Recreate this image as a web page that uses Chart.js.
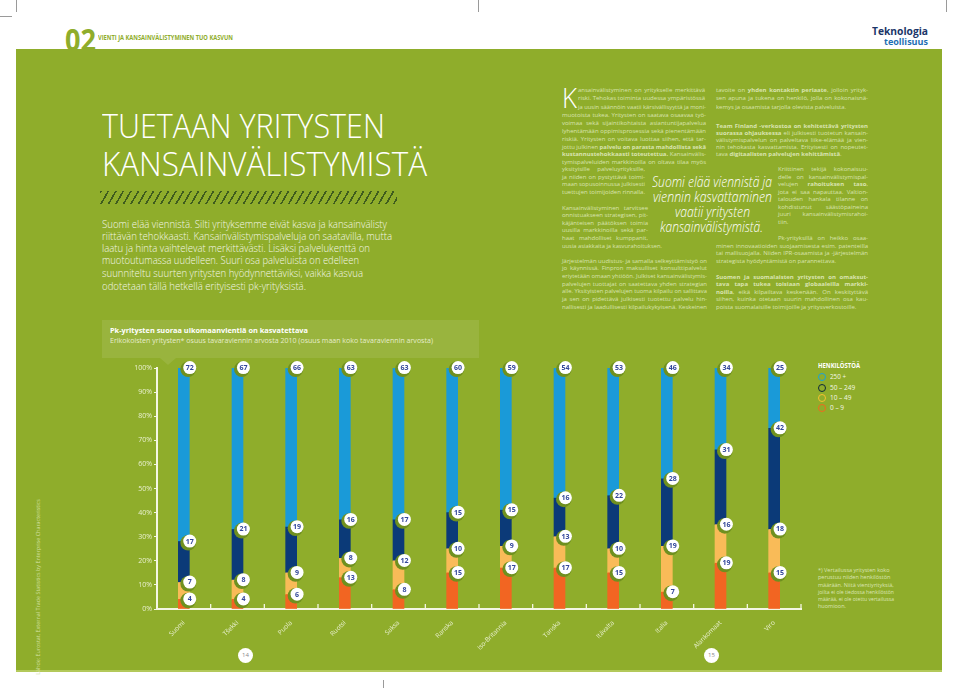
<!DOCTYPE html>
<html lang="fi">
<head>
<meta charset="utf-8">
<title>Pk-yritysten suoraa ulkomaanvientiä on kasvatettava</title>
<script src="https://cdn.jsdelivr.net/npm/chart.js@4.4.0/dist/chart.umd.min.js"></script>
<style>
html, body { margin: 0; padding: 0; background: #fff; }
body { width: 959px; height: 688px; position: relative; overflow: hidden; font-family: "Open Sans", "Noto Sans", sans-serif; color: #fff; }
.page { position: absolute; left: 16px; top: 49px; width: 926px; height: 621px; background: #8fad2b; }
.strip { position: absolute; left: 16px; top: 670px; width: 926px; height: 2px; background: #b3c95a; }
.t { position: absolute; white-space: nowrap; transform-origin: 0 0; }
.mark { position: absolute; background: #9a9a9a; }
.hatch { position: absolute; left: 100px; top: 191px; width: 297px; height: 13px;
  background: repeating-linear-gradient(120deg, #3f5c1e 0 1.6px, transparent 1.6px 6.5px); }
.box { position: absolute; left: 102px; top: 320px; width: 377px; height: 38px; background: rgba(255,255,255,0.09); }
.pointer { position: absolute; left: 160px; top: 358px; width: 0; height: 0;
  border-left: 8px solid transparent; border-right: 8px solid transparent; border-top: 7px solid rgba(255,255,255,0.09); }
.pagenum { position: absolute; width: 15px; height: 15px; border-radius: 50%; background: #fff; color: #8a8a8a;
  font-size: 6px; line-height: 15px; text-align: center; }
#wrap { position: absolute; left: 100px; top: 355px; width: 710px; height: 300px; }
.ring { position: absolute; width: 6px; height: 6px; border-radius: 50%; border: 1.6px solid; }
.src { position: absolute; left: 38px; top: 587px; font-size: 5.4px; color: #d3e0a0; white-space: nowrap;
  transform: translate(-50%, -50%) rotate(-90deg); }
</style>
</head>
<body>
<div class="page"></div>
<div class="strip"></div>
<div class="mark" style="left:16px;top:0;width:1px;height:12px"></div>
<div class="mark" style="left:0;top:16px;width:12px;height:1px"></div>
<div class="mark" style="left:478px;top:0;width:1px;height:12px"></div>
<div class="mark" style="left:946px;top:0;width:1px;height:12px"></div>
<div class="mark" style="left:383px;top:680px;width:1px;height:8px"></div>
<div class="hatch"></div>
<div class="box"></div>
<div class="pointer"></div>
<div class="pagenum" style="left:238px;top:648px">14</div>
<div class="pagenum" style="left:704px;top:648px">15</div>
<div class="src">Lähde: Eurostat, External Trade Statistics by Enterprise Characteristics</div>

<div id="wrap"><canvas id="chart" width="710" height="300"></canvas></div>

<div class="ring" style="left:818px;top:373px;border-color:#1ba2d8"></div>
<div class="ring" style="left:818px;top:384px;border-color:#0d2a3a"></div>
<div class="ring" style="left:818px;top:394px;border-color:#f6c030"></div>
<div class="ring" style="left:818px;top:404px;border-color:#f06a1e"></div>

<script>
// Arvot luettu kuvasta, prosenttia maan tavaraviennin arvosta (2010)
const countries = ["Suomi", "Tšekki", "Puola", "Ruotsi", "Saksa", "Ranska", "Iso-Britannia", "Tanska", "Itävalta", "Italia", "Alankomaat", "Viro"];
const size0to9 = [4, 4, 6, 13, 8, 15, 17, 17, 15, 7, 19, 15];
const size10to49 = [7, 8, 9, 8, 12, 10, 9, 13, 10, 19, 16, 18];
const size50to249 = [17, 21, 19, 16, 17, 15, 15, 16, 22, 28, 31, 42];
const size250plus = [72, 67, 66, 63, 63, 60, 59, 54, 53, 46, 34, 25];
const seriesNames = ["0 – 9", "10 – 49", "50 – 249", "250 +"];
const seriesColors = ["#f26522", "#f9bb58", "#0b3a78", "#1a9ad8"];

const axisColor = "#f4f6e4";
const tickColor = "#e9f0cf";

// tekstirivi: venytetään tai tasataan annettuun leveyteen
function line(x, cy, w, html, o) {
    const d = document.createElement("div");
    d.className = "t";
    d.innerHTML = html;
    d.style.left = x + "px";
    d.style.top = (cy - o.fs / 2) + "px";
    d.style.fontSize = o.fs + "px";
    d.style.lineHeight = o.fs + "px";
    if (o.weight) d.style.fontWeight = o.weight;
    if (o.italic) d.style.fontStyle = "italic";
    d.style.color = o.color || "#fff";
    document.body.appendChild(d);
    const nat = d.getBoundingClientRect().width;
    const mode = o.mode || "f";
    if (mode === "j") {
        const gaps = (d.textContent.match(/ /g) || []).length;
        if (nat < w && gaps) d.style.wordSpacing = ((w - nat) / gaps) + "px";
        else if (nat > w) d.style.transform = "scaleX(" + (w / nat) + ")";
    } else if (mode === "l") {
        if (nat > w) d.style.transform = "scaleX(" + (w / nat) + ")";
    } else {
        d.style.transform = "scaleX(" + (w / nat) + ")";
    }
}

function buildText() {
    // otsikkorivi
    line(65, 39, 31, "02", { fs: 31, weight: 700, color: "#8fad2b" });
    line(98, 38, 135, "VIENTI JA KANSAINVÄLISTYMINEN TUO KASVUN", { fs: 6.5, weight: 700, color: "#8fad2b" });
    line(872, 31, 56, "Teknologia", { fs: 10, weight: 700, color: "#1b3668" });
    line(884, 41, 44, "teollisuus", { fs: 9, weight: 700, color: "#1f6fb4" });

    // pääotsikko
    line(102, 125, 283, "TUETAAN YRITYSTEN", { fs: 33, weight: 300 });
    line(102, 163, 325, "KANSAINVÄLISTYMISTÄ", { fs: 33, weight: 300 });

    const intro = [
        [224, 285, "Suomi elää viennistä. Silti yrityksemme eivät kasva ja kansainvälisty"],
        [236, 290, "riittävän tehokkaasti. Kansainvälistymispalveluja on saatavilla, mutta"],
        [248, 268, "laatu ja hinta vaihtelevat merkittävästi. Lisäksi palvelukenttä on"],
        [260, 257, "muotoutumassa uudelleen. Suuri osa palveluista on edelleen"],
        [273, 261, "suunniteltu suurten yritysten hyödynnettäviksi, vaikka kasvua"],
        [286, 204, "odotetaan tällä hetkellä erityisesti pk-yrityksistä."]
    ];
    intro.forEach(r => line(102, r[0], r[1], r[2], { fs: 10.5, weight: 300, color: "#f3f6e6" }));

    // oikean sivun leipäteksti
    const bodyCol = "#d9e4b0";
    const bo = (mode) => ({ fs: 6, color: bodyCol, mode: mode });
    line(562, 97, 15, "K", { fs: 28, weight: 300 });
    const col1 = [
        [578, 90, 127, "ansainvälistyminen on yritykselle merkittävä", "j"],
        [578, 98, 127, "riski. Tehokas toiminta uudessa ympäristössä", "j"],
        [578, 107, 128, "ja uusin säännöin vaatii kärsivällisyyttä ja moni-", "j"],
        [562, 115, 144, "muotoista tukea. Yritysten on saatava osaavaa työ-", "j"],
        [562, 123, 144, "voimaa sekä sijaintikohtaista asiantuntijapalvelua", "j"],
        [562, 131, 144, "lyhentämään oppimisprosessia sekä pienentämään", "j"],
        [562, 139, 144, "riskiä. Yritysten on voitava luottaa siihen, että tar-", "j"],
        [562, 147, 144, "jottu julkinen <b>palvelu on parasta mahdollista sekä</b>", "j"],
        [562, 154, 144, "<b>kustannustehokkaasti toteutettua.</b> Kansainvälis-", "j"],
        [562, 162, 144, "tymispalveluiden markkinoilla on oltava tilaa myös", "j"],
        [562, 169, 83, "yksityisille palveluyrityksille,", "j"],
        [562, 177, 83, "ja niiden on pystyttävä toimi-", "j"],
        [562, 184, 83, "maan sopusoinnussa julkisesti", "j"],
        [562, 192, 83, "tuettujen toimijoiden rinnalla.", "l"],
        [562, 208, 86, "Kansainvälistyminen tarvitsee", "j"],
        [562, 215, 86, "onnistuakseen strategisen, pit-", "j"],
        [562, 223, 86, "käjänteisen päätöksen toimia", "j"],
        [562, 230, 86, "uusilla markkinoilla sekä par-", "j"],
        [562, 238, 86, "haat mahdolliset kumppanit,", "j"],
        [562, 246, 100, "uusia asiakkaita ja kasvurahoituksen.", "l"],
        [562, 261, 145, "Järjestelmän uudistus- ja samalla selkeyttämistyö on", "j"],
        [562, 268, 145, "jo käynnissä. Finpron maksulliset konsulttipalvelut", "j"],
        [562, 276, 145, "eriytetään omaan yhtiöön. Julkiset kansainvälistymis-", "j"],
        [562, 284, 145, "palvelujen tuottajat on saatettava yhden strategian", "j"],
        [562, 291, 145, "alle. Yksityisten palvelujen tuoma kilpailu on sallittava", "j"],
        [562, 299, 145, "ja sen on pidettävä julkisesti tuotettu palvelu hin-", "j"],
        [562, 307, 145, "nallisesti ja laadullisesti kilpailukykyisenä. Keskeinen", "j"]
    ];
    const col2 = [
        [716, 90, 152, "tavoite on <b>yhden kontaktin periaate</b>, jolloin yrityk-", "j"],
        [716, 98, 152, "sen apuna ja tukena on henkilö, jolla on kokonaisnä-", "j"],
        [716, 107, 130, "kemys ja osaamista tarjolla olevista palveluista.", "l"],
        [716, 126, 152, "<b>Team Finland -verkostoa on kehitettävä yritysten</b>", "j"],
        [716, 133, 152, "<b>suorassa ohjauksessa</b> eli julkisesti tuotetun kansain-", "j"],
        [716, 140, 152, "välistymispalvelun on palveltava liike-elämää ja vien-", "j"],
        [716, 147, 152, "nin tehokasta kasvattamista. Erityisesti on nopeutet-", "j"],
        [716, 154, 130, "tava <b>digitaalisten palvelujen kehittämistä</b>.", "l"],
        [778, 169, 90, "Kriittinen tekijä kokonaisuu-", "j"],
        [778, 177, 90, "delle on kansainvälistymispal-", "j"],
        [778, 184, 90, "velujen <b>rahoituksen taso</b>,", "j"],
        [778, 192, 90, "jota ei saa napauttaa. Valtion-", "j"],
        [778, 199, 90, "talouden hankala tilanne on", "j"],
        [778, 207, 90, "kohdistunut säästöpaineina", "j"],
        [778, 214, 90, "juuri kansainvälistymisrahoi-", "j"],
        [778, 222, 20, "tiin.", "l"],
        [778, 238, 90, "Pk-yrityksillä on heikko osaa-", "j"],
        [716, 246, 152, "minen innovaatioiden suojaamisesta esim. patenteilla", "j"],
        [716, 253, 152, "tai mallisuojalla. Niiden IPR-osaamista ja -järjestelmän", "j"],
        [716, 261, 120, "strategista hyödyntämistä on parannettava.", "l"],
        [716, 277, 152, "<b>Suomen ja suomalaisten yritysten on omaksut-</b>", "j"],
        [716, 284, 152, "<b>tava tapa tukea toisiaan globaaleilla markki-</b>", "j"],
        [716, 292, 152, "<b>noilla</b>, eikä kilpailtava keskenään. On keskityttävä", "j"],
        [716, 299, 152, "siihen, kuinka otetaan suurin mahdollinen osa kau-", "j"],
        [716, 307, 150, "poista suomalaisille toimijoille ja yritysverkostoille.", "l"]
    ];
    col1.concat(col2).forEach(r => line(r[0], r[1], r[2], r[3], bo(r[4])));

    // nosto
    const quote = [
        [182, 652, 120, "Suomi elää viennistä ja"],
        [197, 653, 119, "viennin kasvattaminen"],
        [212, 675, 75, "vaatii yritysten"],
        [227, 660, 103, "kansainvälistymistä."]
    ];
    quote.forEach(r => line(r[1], r[0], r[2], r[3], { fs: 14, weight: 300, italic: true }));

    // kaavion otsikko
    line(110, 331, 198, "Pk-yritysten suoraa ulkomaanvientiä on kasvatettava", { fs: 7.5, weight: 700 });
    line(110, 341, 323, "Erikokoisten yritysten* osuus tavaraviennin arvosta 2010 (osuus maan koko tavaraviennin arvosta)", { fs: 7.5, color: "#e6eccb" });

    // selite
    line(818, 366, 42, "HENKILÖSTÖÄ", { fs: 6.5, weight: 700 });
    const legendY = [377, 388, 398, 408];
    [3, 2, 1, 0].forEach((s, i) => line(830, legendY[i], seriesNames[s].length * 3.2, seriesNames[s], { fs: 6.5, color: "#f4f7e6", mode: "l" }));

    const note = [
        "*) Vertailussa yritysten koko",
        "perustuu niiden henkilöstön",
        "määrään. Niitä vientiyrityksiä,",
        "joilta ei ole tiedossa henkilöstön",
        "määrää, ei ole otettu vertailussa",
        "huomioon."
    ];
    note.forEach((t, i) => line(818, 571 + i * 7.2, 76, t, { fs: 5.5, color: "#dbe5b4", mode: "l" }));
}

// pienet väliviivat x-akselille luokkien väliin
const boundaryTicks = {
    id: "boundaryTicks",
    afterDraw(chart) {
        const ctx = chart.ctx;
        const x = chart.scales.x;
        const bottom = chart.scales.y.bottom;
        ctx.save();
        ctx.strokeStyle = axisColor;
        ctx.lineWidth = 1.3;
        for (let i = 1; i <= countries.length; i++) {
            const px = i < countries.length
                ? (x.getPixelForValue(i - 1) + x.getPixelForValue(i)) / 2
                : x.right;
            ctx.beginPath();
            ctx.moveTo(px, bottom);
            ctx.lineTo(px, bottom - 5);
            ctx.stroke();
        }
        ctx.restore();
    }
};

// arvopallot jokaisen osan yläkulmaan
const valueBubbles = {
    id: "valueBubbles",
    afterDatasetsDraw(chart) {
        const ctx = chart.ctx;
        ctx.save();
        ctx.font = "bold 7px 'Open Sans', sans-serif";
        ctx.textAlign = "center";
        ctx.textBaseline = "middle";
        chart.data.datasets.forEach((ds, d) => {
            chart.getDatasetMeta(d).data.forEach((bar, i) => {
                const cx = bar.x + bar.width / 2;
                const cy = bar.y;
                ctx.fillStyle = "#6f901f";
                ctx.beginPath();
                ctx.arc(cx - 1.2, cy + 1.2, 7.8, 0, Math.PI * 2);
                ctx.fill();
                ctx.fillStyle = "#ffffff";
                ctx.beginPath();
                ctx.arc(cx + 0.4, cy - 0.4, 6.5, 0, Math.PI * 2);
                ctx.fill();
                ctx.fillStyle = "#33479a";
                ctx.fillText(ds.data[i], cx + 0.4, cy);
            });
        });
        ctx.restore();
    }
};

function renderChart() {
    const ctx = document.getElementById("chart").getContext("2d");
    const series = [size0to9, size10to49, size50to249, size250plus];
    new Chart(ctx, {
        type: "bar",
        data: {
            labels: countries,
            datasets: series.map((values, s) => ({
                label: seriesNames[s],
                data: values,
                backgroundColor: seriesColors[s],
                barThickness: 11,
                borderWidth: 0
            }))
        },
        options: {
            responsive: false,
            animation: false,
            layout: { padding: { top: 13, right: 9, left: 0, bottom: 0 } },
            plugins: {
                legend: { display: false },
                tooltip: { enabled: false }
            },
            scales: {
                x: {
                    stacked: true,
                    grid: { display: false },
                    border: { color: axisColor, width: 2 },
                    ticks: {
                        color: tickColor,
                        font: { family: "'Open Sans', sans-serif", size: 6.5 },
                        minRotation: 45,
                        maxRotation: 45,
                        padding: 2
                    },
                    afterFit(scale) { scale.height = 46; }
                },
                y: {
                    stacked: true,
                    min: 0,
                    max: 100,
                    grid: { display: true, drawOnChartArea: false, color: axisColor, tickLength: 3 },
                    border: { color: axisColor, width: 2 },
                    ticks: {
                        stepSize: 10,
                        color: tickColor,
                        font: { family: "'Open Sans', sans-serif", size: 7 },
                        padding: 2,
                        callback: (v) => v + "%"
                    },
                    afterFit(scale) { scale.width = 57; }
                }
            }
        },
        plugins: [boundaryTicks, valueBubbles]
    });
}

document.addEventListener("DOMContentLoaded", function () {
    const go = () => { buildText(); renderChart(); };
    if (document.fonts && document.fonts.ready) document.fonts.ready.then(go);
    else go();
});
</script>
</body>
</html>
